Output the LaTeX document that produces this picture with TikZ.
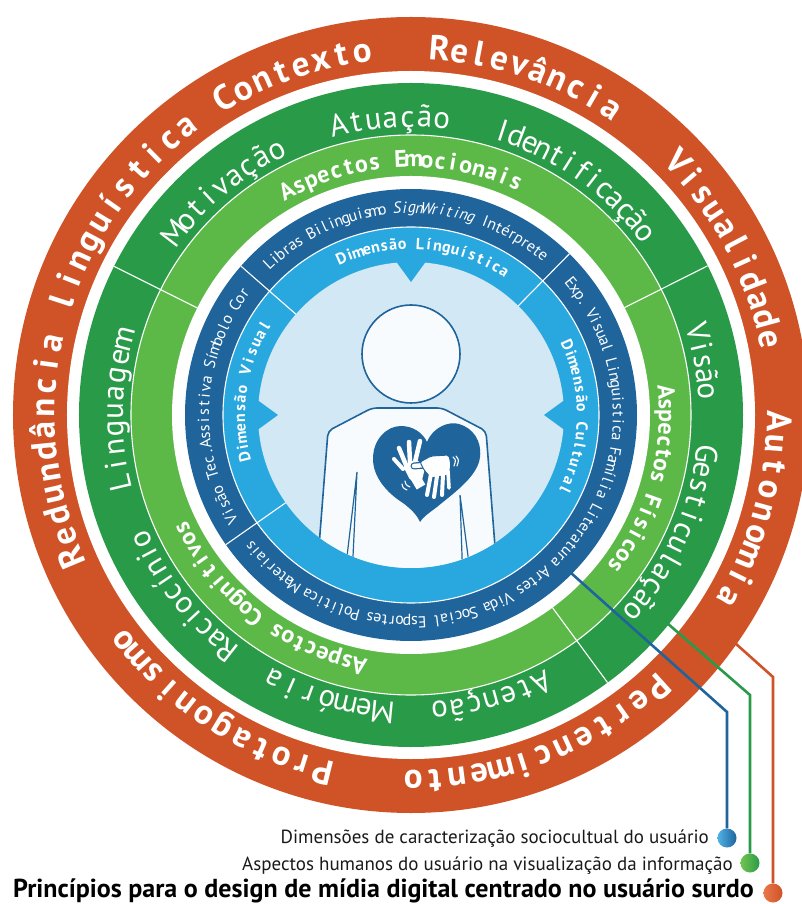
\documentclass[tikz,border=0pt]{standalone}
\usepackage{fontspec}
\setmainfont{PT Sans}

\definecolor{ringorange}{HTML}{CF5327}
\definecolor{ringdarkgreen}{HTML}{299B48}
\definecolor{ringlightgreen}{HTML}{5CB948}
\definecolor{ringdarkblue}{HTML}{1F649B}
\definecolor{ringlightblue}{HTML}{29A8E0}
\definecolor{corepale}{HTML}{D2E8F5}
\definecolor{bodyfill}{HTML}{F8FBFD}
\definecolor{dotorange}{HTML}{E8784A}
\definecolor{dotgreen}{HTML}{74C450}
\definecolor{dotblue}{HTML}{4FB2E6}
\definecolor{legendtext}{HTML}{1A1A1A}

% fonts of the rings and of the legend (1pt = 1px)
\newcommand\fOuter{\bfseries\fontsize{35}{35}\selectfont}
\newcommand\fGreen{\fontsize{31}{31}\selectfont}
\newcommand\fLight{\bfseries\fontsize{24}{24}\selectfont}
\newcommand\fBlue{\fontsize{16}{16}\selectfont}
\newcommand\fInner{\bfseries\fontsize{16}{16}\selectfont}
\newcommand\fLegend{\fontsize{19}{19}\selectfont}
\newcommand\fLegendBold{\bfseries\fontsize{26}{26}\selectfont}

% \ringtext{font}{baseline radius}{centre angle}{angle between first and last glyph}{text}
% sets the text clockwise around the centre, glyph tops pointing outwards;
% ~ is a space, \rtit and \rtup switch to italic and back
\makeatletter
\newdimen\rt@len \newdimen\rt@pos \newdimen\rt@w \newdimen\rt@track
\newdimen\rt@wfirst \newdimen\rt@wlast
\newcount\rt@n \newcount\rt@id
\def\rt@end{rt@end@marker}
\def\rtit{rtit@marker}
\def\rtup{rtup@marker}
\def\rt@measure#1{%
  \ifx#1\rt@end\else
    \ifx#1\rtit\def\rt@shape{\itshape}\else
    \ifx#1\rtup\def\rt@shape{}\else
      \setbox0=\hbox{\rt@font\rt@shape #1}%
      \advance\rt@len by \wd0
      \advance\rt@n by 1
      \ifnum\rt@n=1 \rt@wfirst=\wd0 \fi
      \rt@wlast=\wd0
    \fi\fi
    \expandafter\rt@measure
  \fi}
\def\rt@place#1{%
  \ifx#1\rt@end\else
    \ifx#1\rtit\def\rt@shape{\itshape}\else
    \ifx#1\rtup\def\rt@shape{}\else
      \setbox0=\hbox{\rt@font\rt@shape #1}%
      \rt@w=\wd0
      \advance\rt@pos by 0.5\rt@w
      \pgfmathsetmacro\rt@ang{\rt@start-deg(\rt@pos/\rt@rad)}%
      \global\advance\rt@id by 1
      \edef\rt@name{ch\the\rt@id}%
      \node[ringchar, font=\rt@font\rt@shape, rotate=\rt@ang-90]
        (\rt@name) at (\rt@ang:\rt@rad pt) {#1};%
      \advance\rt@pos by 0.5\rt@w
      \advance\rt@pos by \rt@track
    \fi\fi
    \expandafter\rt@place
  \fi}
\newcommand\ringtext[5]{%
  \def\rt@font{#1}\def\rt@shape{}\def\rt@rad{#2}%
  \rt@len=0pt \rt@n=0 \rt@wfirst=0pt \rt@wlast=0pt
  \rt@measure#5\rt@end
  \advance\rt@len by -0.5\rt@wfirst
  \advance\rt@len by -0.5\rt@wlast
  \pgfmathsetmacro\rt@trk{(rad(#4)*#2-\rt@len)/(\the\rt@n-1)}%
  \rt@track=\rt@trk pt
  \pgfmathsetmacro\rt@start{#3+0.5*(#4)}%
  \def\rt@shape{}%
  \rt@pos=-0.5\rt@wfirst
  \rt@place#5\rt@end}
\makeatother

\begin{document}
\begin{tikzpicture}[x=1pt, y=1pt,
  ringchar/.style={anchor=base, inner sep=0pt, outer sep=0pt, text=white},
  seam/.style={white, line width=1.1pt},
  outline/.style={draw=ringdarkblue, line width=1.6pt},
  handpart/.style={white, line width=4.5pt, line cap=round},
  motion/.style={white, line width=1.1pt, line cap=round},
  leader/.style={line width=2.6pt},
  legenddot/.style={circle, minimum size=19pt, inner sep=0pt},
  legendline/.style={anchor=base east, inner sep=0pt, text=legendtext, font=\fLegend},
  legendhead/.style={anchor=base east, inner sep=0pt, text=black, font=\fLegendBold}]

\useasboundingbox (-411,-489) rectangle (391,415);
\fill[white] (-411,-489) rectangle (391,415);

% concentric rings
\fill[ringorange] (0,0) circle[radius=398pt];
\fill[white] (0,0) circle[radius=344pt];
\fill[ringdarkgreen] (0,0) circle[radius=332pt];
\fill[ringlightgreen] (0,0) circle[radius=280pt];
\fill[white] (0,0) circle[radius=239pt];
\fill[ringdarkblue] (0,0) circle[radius=226pt];
\fill[ringlightblue] (0,0) circle[radius=188pt];
\fill[corepale] (0,0) circle[radius=153pt];
\draw[seam] (0,0) circle[radius=280pt];
\draw[seam] (0,0) circle[radius=188pt];

% sector dividers
\foreach \a in {26.7,153.4,-53.7} \draw[seam] (\a:239pt) -- (\a:332pt);
\foreach \a in {45.5,138.8,215} \draw[seam] (\a:153pt) -- (\a:226pt);

% pointers of the inner ring
\foreach \a in {90,0,180}
  \fill[ringlightblue] (\a+5.5:154pt) -- (\a:133pt) -- (\a-5.5:154pt) -- cycle;

% person
\begin{scope}
  \clip (0,0) circle[radius=153pt];
  \filldraw[fill=bodyfill, outline, rounded corners=5pt]
    (-95,-170) -- (-83,-16) -- (-39,7) -- (31,7) -- (75,-16) -- (87,-170) -- cycle;
  \draw[ringdarkblue, line width=1.2pt] (-65,-150) -- (-54,-57) -- (-58.4,-150);
  \draw[ringdarkblue, line width=1.2pt] (51.3,-150) -- (49,-80) -- (58.2,-150);
\end{scope}
\filldraw[fill=bodyfill, outline] (0,61) circle[radius=49pt];

% heart with two signing hands
\fill[ringdarkblue] (16,-27) .. controls (22,-12) and (38,-6) .. (48,-9)
  .. controls (62,-13) and (71,-26) .. (69,-42)
  .. controls (67,-62) and (40,-80) .. (26,-92)
  .. controls (18,-98) and (12,-102) .. (9,-107)
  .. controls (6,-100) and (0,-94) .. (-8,-88)
  .. controls (-24,-78) and (-38,-62) .. (-38,-44)
  .. controls (-38,-24) and (-24,-11) .. (-10,-11)
  .. controls (2,-11) and (12,-18) .. (16,-27) -- cycle;
\fill[white, rounded corners=2pt] (-8,-51) -- (5,-44) -- (14,-53) -- (10,-69) -- (-1,-65) -- cycle;
\draw[handpart] (4,-47) -- (9,-26);
\draw[handpart] (-1,-47) -- (-2,-27);
\draw[handpart] (-5,-50) -- (-12,-33);
\draw[handpart, line width=4pt] (-8,-54) -- (-17,-44);
\draw[white, line width=10pt] (3,-60) -- (10,-72);
\draw[ringdarkblue, line width=7pt, line cap=round] (14,-50) -- (3,-51);
\draw[handpart] (14,-50) -- (3,-51);
\filldraw[fill=white, draw=ringdarkblue, line width=1pt, rounded corners=2pt]
  (9,-47) -- (20,-41) -- (38,-40) -- (40,-50) -- (38,-60) -- (20,-63) -- (13,-55) -- cycle;
\draw[handpart, line width=4pt] (20,-59) -- (16,-80);
\draw[handpart, line width=4pt] (26,-61) -- (23,-82);
\draw[handpart, line width=4pt] (32,-60) -- (31,-80);
\draw[handpart, line width=3.6pt] (37,-56) -- (38,-73);
\fill[white] (11,-48) -- (20,-43) -- (37,-42) -- (38,-58) -- (20,-61) -- (14,-54) -- cycle;
\draw[motion] (-9,-69) .. controls (-8,-73) .. (-4,-75);
\draw[motion] (-6,-66) .. controls (-5,-70) .. (-1,-72);
\draw[motion] (42,-42) .. controls (45,-45) .. (43,-51);
\draw[motion] (45,-41) .. controls (48,-45) .. (46,-51);

% outer ring
\ringtext{\fOuter}{356}{109.1}{23.0}{Contexto}
\ringtext{\fOuter}{356}{71.2}{28.6}{Relevância}
\ringtext{\fOuter}{356}{27.7}{31.4}{Visualidade}
\ringtext{\fOuter}{356}{-15.4}{28.9}{Autonomia}
\ringtext{\fOuter}{356}{-68.7}{41.9}{Pertencimento}
\ringtext{\fOuter}{356}{-122.9}{38}{Protagonismo}
\ringtext{\fOuter}{356}{165.3}{74.9}{Redundância~linguística}

% human aspects
\ringtext{\fGreen}{288}{129.7}{25.5}{Motivação}
\ringtext{\fGreen}{288}{94}{19.9}{Atuação}
\ringtext{\fGreen}{288}{55}{34}{Identificação}
\ringtext{\fGreen}{288}{10.35}{11.5}{Visão}
\ringtext{\fGreen}{288}{-24.5}{33.7}{Gesticulação}
\ringtext{\fGreen}{288}{-74.2}{20.5}{Atenção}
\ringtext{\fGreen}{288}{-106.5}{22}{Memória}
\ringtext{\fGreen}{288}{-141.6}{27}{Raciocínio}
\ringtext{\fGreen}{288}{179.2}{28}{Linguagem}

\ringtext{\fLight}{248}{92.35}{53.3}{Aspectos~Emocionais}
\ringtext{\fLight}{248}{-15.55}{41.5}{Aspectos~Físicos}
\ringtext{\fLight}{248}{-127.7}{52}{Aspectos~Cognitivos}

% sociocultural dimensions
\ringtext{\fBlue}{202}{91.8}{83}{Libras~Bilinguismo~\rtit SignWriting\rtup~Intérprete}
\ringtext{\fBlue}{202}{176.95}{66.5}{Visão~Tec.Assistiva~Símbolo~Cor}
\ringtext{\fBlue}{202}{-50.65}{180.5}{Exp.~Visual~Linguistica~Família~Literatura~Artes~Vida~Social~Esportes~Política~Materiais}

\ringtext{\fInner}{166}{85.5}{57}{Dimensão~Línguística}
\ringtext{\fInner}{166}{171.3}{45.4}{Dimensão~Visual}
\ringtext{\fInner}{166}{-0.8}{50}{Dimensão~Cultural}

% legend
\coordinate (blueStart) at (160,-158);
\coordinate (blueBend) at (316,-297);
\coordinate (greenStart) at (256,-208);
\coordinate (greenBend) at (339,-280);
\coordinate (orangeStart) at (324,-228);
\coordinate (orangeBend) at (362,-262);
\node[legenddot, left color=dotblue, right color=ringdarkblue] (blueDot) at (316,-423) {};
\node[legenddot, left color=dotgreen, right color=ringdarkgreen] (greenDot) at (339,-448) {};
\node[legenddot, left color=dotorange, right color=ringorange] (orangeDot) at (362,-478) {};
\draw[leader, ringdarkblue] (blueStart) -- (blueBend) -- (blueDot.north);
\draw[leader, ringdarkgreen] (greenStart) -- (greenBend) -- (greenDot.north);
\draw[leader, ringorange] (orangeStart) -- (orangeBend) -- (orangeDot.north);

\node[legendline] (legendBlue) at (298,-428) {Dimensões de caracterização sociocultual do usuário};
\node[legendline] (legendGreen) at (322,-455) {Aspectos humanos do usuário na visualização da informação};
\node[legendhead] (legendOrange) at (343,-482) {Princípios para o design de mídia digital centrado no usuário surdo};
\end{tikzpicture}
\end{document}
